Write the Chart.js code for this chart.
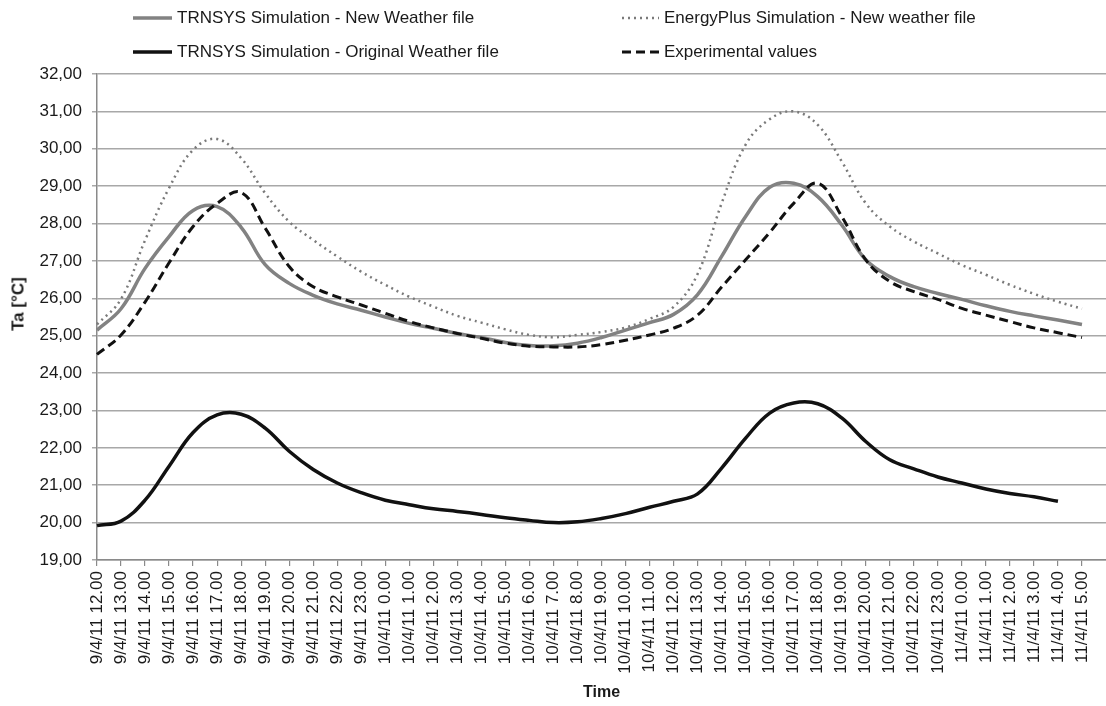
<!DOCTYPE html>
<html>
<head>
<meta charset="utf-8">
<script src="https://cdn.jsdelivr.net/npm/chart.js@4/dist/chart.umd.min.js"></script>
<style>
  html, body { margin: 0; padding: 0; background: #fff; }
  #wrap { position: relative; width: 1106px; height: 706px; }
  #chart { position: absolute; left: 0; top: 0; }
  .lg { position: absolute; display: flex; align-items: center; font-family: "Liberation Sans", Arial, sans-serif; font-size: 17px; color: #1a1a1a; white-space: nowrap; }
  .lg svg { display: block; margin-right: 5px; }
  #ytitle { position: absolute; left: 18px; top: 304px; transform: translate(-50%, -50%) rotate(-90deg);
    font-family: "Liberation Sans", Arial, sans-serif; font-size: 17px; font-weight: bold; color: #1a1a1a; white-space: nowrap; line-height: 1; }
</style>
</head>
<body>
<div id="wrap">
  <canvas id="chart" width="1106" height="706"></canvas>
</div>
<script>
const categories = [
  '9/4/11 12.00','9/4/11 13.00','9/4/11 14.00','9/4/11 15.00','9/4/11 16.00','9/4/11 17.00',
  '9/4/11 18.00','9/4/11 19.00','9/4/11 20.00','9/4/11 21.00','9/4/11 22.00','9/4/11 23.00',
  '10/4/11 0.00','10/4/11 1.00','10/4/11 2.00','10/4/11 3.00','10/4/11 4.00','10/4/11 5.00',
  '10/4/11 6.00','10/4/11 7.00','10/4/11 8.00','10/4/11 9.00','10/4/11 10.00','10/4/11 11.00',
  '10/4/11 12.00','10/4/11 13.00','10/4/11 14.00','10/4/11 15.00','10/4/11 16.00','10/4/11 17.00',
  '10/4/11 18.00','10/4/11 19.00','10/4/11 20.00','10/4/11 21.00','10/4/11 22.00','10/4/11 23.00',
  '11/4/11 0.00','11/4/11 1.00','11/4/11 2.00','11/4/11 3.00','11/4/11 4.00','11/4/11 5.00'
];

const trnsysNew = [25.15, 25.72, 26.8, 27.65, 28.35, 28.45, 27.9, 26.9, 26.4, 26.08, 25.85, 25.68,
  25.5, 25.33, 25.2, 25.06, 24.95, 24.82, 24.74, 24.73, 24.8, 24.95, 25.15, 25.35,
  25.57, 26.1, 27.12, 28.19, 28.97, 29.08, 28.72, 27.96, 27.03, 26.58, 26.31, 26.13,
  25.97, 25.8, 25.65, 25.53, 25.42, 25.3];

const energyPlus = [25.3, 25.98, 27.55, 28.95, 29.97, 30.26, 29.75, 28.81, 28.05, 27.56, 27.12, 26.71,
  26.36, 26.04, 25.78, 25.53, 25.35, 25.17, 25.02, 24.96, 25.02, 25.1, 25.22, 25.45,
  25.77, 26.65, 28.54, 30.11, 30.79, 31.0, 30.64, 29.66, 28.54, 27.92, 27.52, 27.2,
  26.89, 26.63, 26.36, 26.12, 25.91, 25.72];

const trnsysOriginal = [19.92, 20.04, 20.6, 21.51, 22.41, 22.88, 22.9, 22.53, 21.91, 21.42, 21.06, 20.8,
  20.6, 20.48, 20.37, 20.3, 20.22, 20.13, 20.06, 20.0, 20.02, 20.11, 20.24, 20.41,
  20.57, 20.77, 21.46, 22.26, 22.93, 23.2, 23.18, 22.8, 22.17, 21.68, 21.44, 21.22,
  21.06, 20.9, 20.78, 20.69, 20.57, null];

const experimental = [24.5, 25.02, 25.9, 26.95, 27.92, 28.54, 28.83, 27.88, 26.85, 26.31, 26.04, 25.82,
  25.6, 25.38, 25.21, 25.06, 24.93, 24.8, 24.72, 24.7, 24.7, 24.76, 24.88, 25.02,
  25.2, 25.55, 26.3, 27.03, 27.76, 28.54, 29.08, 28.19, 27.03, 26.45, 26.18, 25.97,
  25.73, 25.55, 25.38, 25.21, 25.08, 24.95];

const seriesNames = [
  'TRNSYS Simulation - New Weather file',
  'EnergyPlus Simulation - New weather file',
  'TRNSYS Simulation - Original Weather file',
  'Experimental values'
];

const yMin = 19, yMax = 32, yStep = 1;
const xTitle = 'Time';
const yTitle = 'Ta [°C]';

const FONT = '"Liberation Sans", Arial, sans-serif';
const CHART_LEFT = 97, CHART_TOP = 74, CHART_BOTTOM = 560, H = 706;

const styles = [
  { borderColor: '#828282', borderWidth: 3.5, borderDash: [] },
  { borderColor: '#7a7a7a', borderWidth: 2.5, borderDash: [2, 4] },
  { borderColor: '#111111', borderWidth: 3.5, borderDash: [] },
  { borderColor: '#111111', borderWidth: 3, borderDash: [9, 5] }
];
const seriesData = [trnsysNew, energyPlus, trnsysOriginal, experimental];

const datasets = seriesData.map((d, k) => Object.assign({
  label: seriesNames[k],
  data: d,
  pointRadius: 0,
  pointHoverRadius: 0,
  tension: 0.4,
  fill: false,
  spanGaps: false
}, styles[k]));

// draw order: dotted below
const drawOrder = [1, 0, 2, 3];
drawOrder.forEach((k, n) => { datasets[k].order = 4 - n; });

const chart = new Chart(document.getElementById('chart'), {
  type: 'line',
  data: { labels: categories.concat(['']), datasets },
  options: {
    responsive: false,
    devicePixelRatio: 1,
    animation: false,
    events: [],
    layout: { padding: { top: CHART_TOP, left: 0, right: 0, bottom: 0 } },
    plugins: { legend: { display: false }, tooltip: { enabled: false } },
    scales: {
      x: {
        type: 'category',
        offset: false,
        grid: {
          drawOnChartArea: false, drawTicks: true, tickLength: 6, lineWidth: 1.2,
          color: c => (c.index === categories.length ? 'rgba(0,0,0,0)' : '#8a8a8a')
        },
        border: { color: '#8a8a8a', width: 1.5 },
        ticks: {
          autoSkip: false, maxRotation: 90, minRotation: 90, padding: 5,
          color: '#1a1a1a', font: { family: FONT, size: 17 }
        },
        title: {
          display: true, text: xTitle, color: '#1a1a1a',
          font: { family: FONT, size: 16, weight: 'bold' }, padding: { top: 2, bottom: 4 }
        },
        afterFit(scale) {
          scale.height = H - CHART_BOTTOM;
          scale.paddingLeft = 0;
          scale.paddingRight = 0;
        }
      },
      y: {
        min: yMin, max: yMax,
        grid: { color: '#a8a8a8', lineWidth: 1.5, tickLength: 5, drawTicks: true },
        border: { color: '#8a8a8a', width: 1.5 },
        ticks: {
          stepSize: yStep, padding: 10, color: '#1a1a1a',
          font: { family: FONT, size: 17 },
          callback: v => v.toFixed(2).replace('.', ',')
        },
        title: { display: false },
        afterFit(scale) { scale.width = CHART_LEFT; }
      }
    }
  }
});

const wrap = document.getElementById('wrap');

// y-axis title as real text
const yt = document.createElement('div');
yt.id = 'ytitle';
yt.textContent = yTitle;
wrap.appendChild(yt);

// HTML legend built from the datasets
const legendPos = [
  { left: 133, top: 18, sw: 39 },
  { left: 622, top: 18, sw: 37 },
  { left: 133, top: 52, sw: 39 },
  { left: 622, top: 52, sw: 37 }
];
chart.data.datasets.forEach((ds, k) => {
  const p = legendPos[k];
  const item = document.createElement('div');
  item.className = 'lg';
  item.style.left = p.left + 'px';
  item.style.top = (p.top - 10) + 'px';
  item.style.height = '20px';
  const svgNS = 'http://www.w3.org/2000/svg';
  const svg = document.createElementNS(svgNS, 'svg');
  svg.setAttribute('width', p.sw);
  svg.setAttribute('height', 8);
  const ln = document.createElementNS(svgNS, 'line');
  ln.setAttribute('x1', 0); ln.setAttribute('x2', p.sw);
  ln.setAttribute('y1', 4); ln.setAttribute('y2', 4);
  ln.setAttribute('stroke', ds.borderColor);
  ln.setAttribute('stroke-width', ds.borderWidth);
  if (ds.borderDash && ds.borderDash.length) ln.setAttribute('stroke-dasharray', ds.borderDash.join(' '));
  svg.appendChild(ln);
  const span = document.createElement('span');
  span.textContent = ds.label;
  item.appendChild(svg);
  item.appendChild(span);
  wrap.appendChild(item);
});
</script>
</body>
</html>
